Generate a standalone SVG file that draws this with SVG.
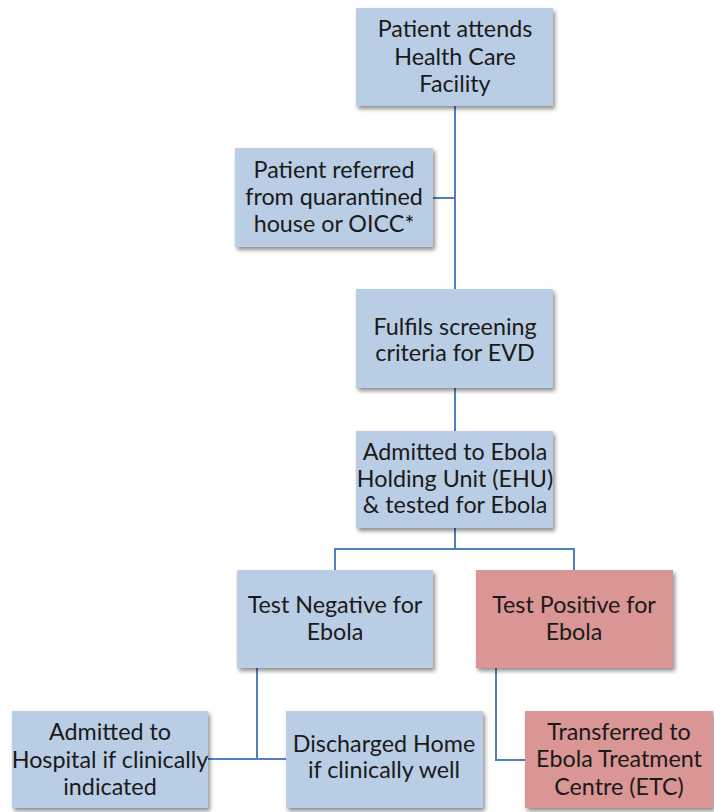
<svg xmlns="http://www.w3.org/2000/svg" width="714" height="812" viewBox="0 0 714 812">
<defs>
<filter id="sh" x="-10%" y="-10%" width="125%" height="130%">
<feGaussianBlur in="SourceAlpha" stdDeviation="2"/>
<feOffset dx="2" dy="3" result="b"/>
<feComponentTransfer><feFuncA type="linear" slope="0.45"/></feComponentTransfer>
<feMerge><feMergeNode/><feMergeNode in="SourceGraphic"/></feMerge>
</filter>
</defs>
<style>
.b{fill:#b9cde5;filter:url(#sh)}
.r{fill:#d99694;filter:url(#sh)}
.t{font-family:Lato,"Open Sans",sans-serif;font-size:23.3px;fill:#1a1a1a;text-anchor:middle}
.c{fill:none;stroke:#4f81bd;stroke-width:2}
</style>
<rect width="714" height="812" fill="#ffffff"/>
<g id="connectors">
<path class="c" d="M455 106V289M433 198H455"/>
<path class="c" d="M455 388V431"/>
<path class="c" d="M455 528V549M335 570V549H574V570"/>
<path class="c" d="M257 668V759M208 759H286"/>
<path class="c" d="M496 668V760H525"/>
</g>
<g id="n1"><rect class="b" x="356" y="8" width="197" height="98"/>
<text class="t" x="455" y="37">Patient attends</text><text class="t" x="455" y="65">Health Care</text><text class="t" x="455" y="92">Facility</text></g>
<g id="n2"><rect class="b" x="235" y="148" width="198" height="99"/>
<text class="t" x="334" y="178">Patient referred</text><text class="t" x="334" y="205">from quarantined</text><text class="t" x="334" y="232">house or OICC*</text></g>
<g id="n3"><rect class="b" x="356" y="289" width="197" height="99"/>
<text class="t" x="455" y="335">Fulfils screening</text><text class="t" x="455" y="361">criteria for EVD</text></g>
<g id="n4"><rect class="b" x="356" y="431" width="197" height="97"/>
<text class="t" x="455" y="460">Admitted to Ebola</text><text class="t" x="455" y="487">Holding Unit (EHU)</text><text class="t" x="455" y="513">&amp; tested for Ebola</text></g>
<g id="n5"><rect class="b" x="237" y="570" width="196" height="98"/>
<text class="t" x="335" y="613">Test Negative for</text><text class="t" x="335" y="640">Ebola</text></g>
<g id="n6"><rect class="r" x="476" y="570" width="197" height="98"/>
<text class="t" x="574" y="613">Test Positive for</text><text class="t" x="574" y="640">Ebola</text></g>
<g id="n7"><rect class="b" x="12" y="711" width="196" height="97"/>
<text class="t" x="110" y="740">Admitted to</text><text class="t" x="110" y="768">Hospital if clinically</text><text class="t" x="110" y="795">indicated</text></g>
<g id="n8"><rect class="b" x="286" y="711" width="197" height="97"/>
<text class="t" x="384" y="752">Discharged Home</text><text class="t" x="384" y="778">if clinically well</text></g>
<g id="n9"><rect class="r" x="525" y="711" width="188" height="97"/>
<text class="t" x="619" y="740">Transferred to</text><text class="t" x="619" y="767">Ebola Treatment</text><text class="t" x="619" y="795">Centre (ETC)</text></g>
</svg>
